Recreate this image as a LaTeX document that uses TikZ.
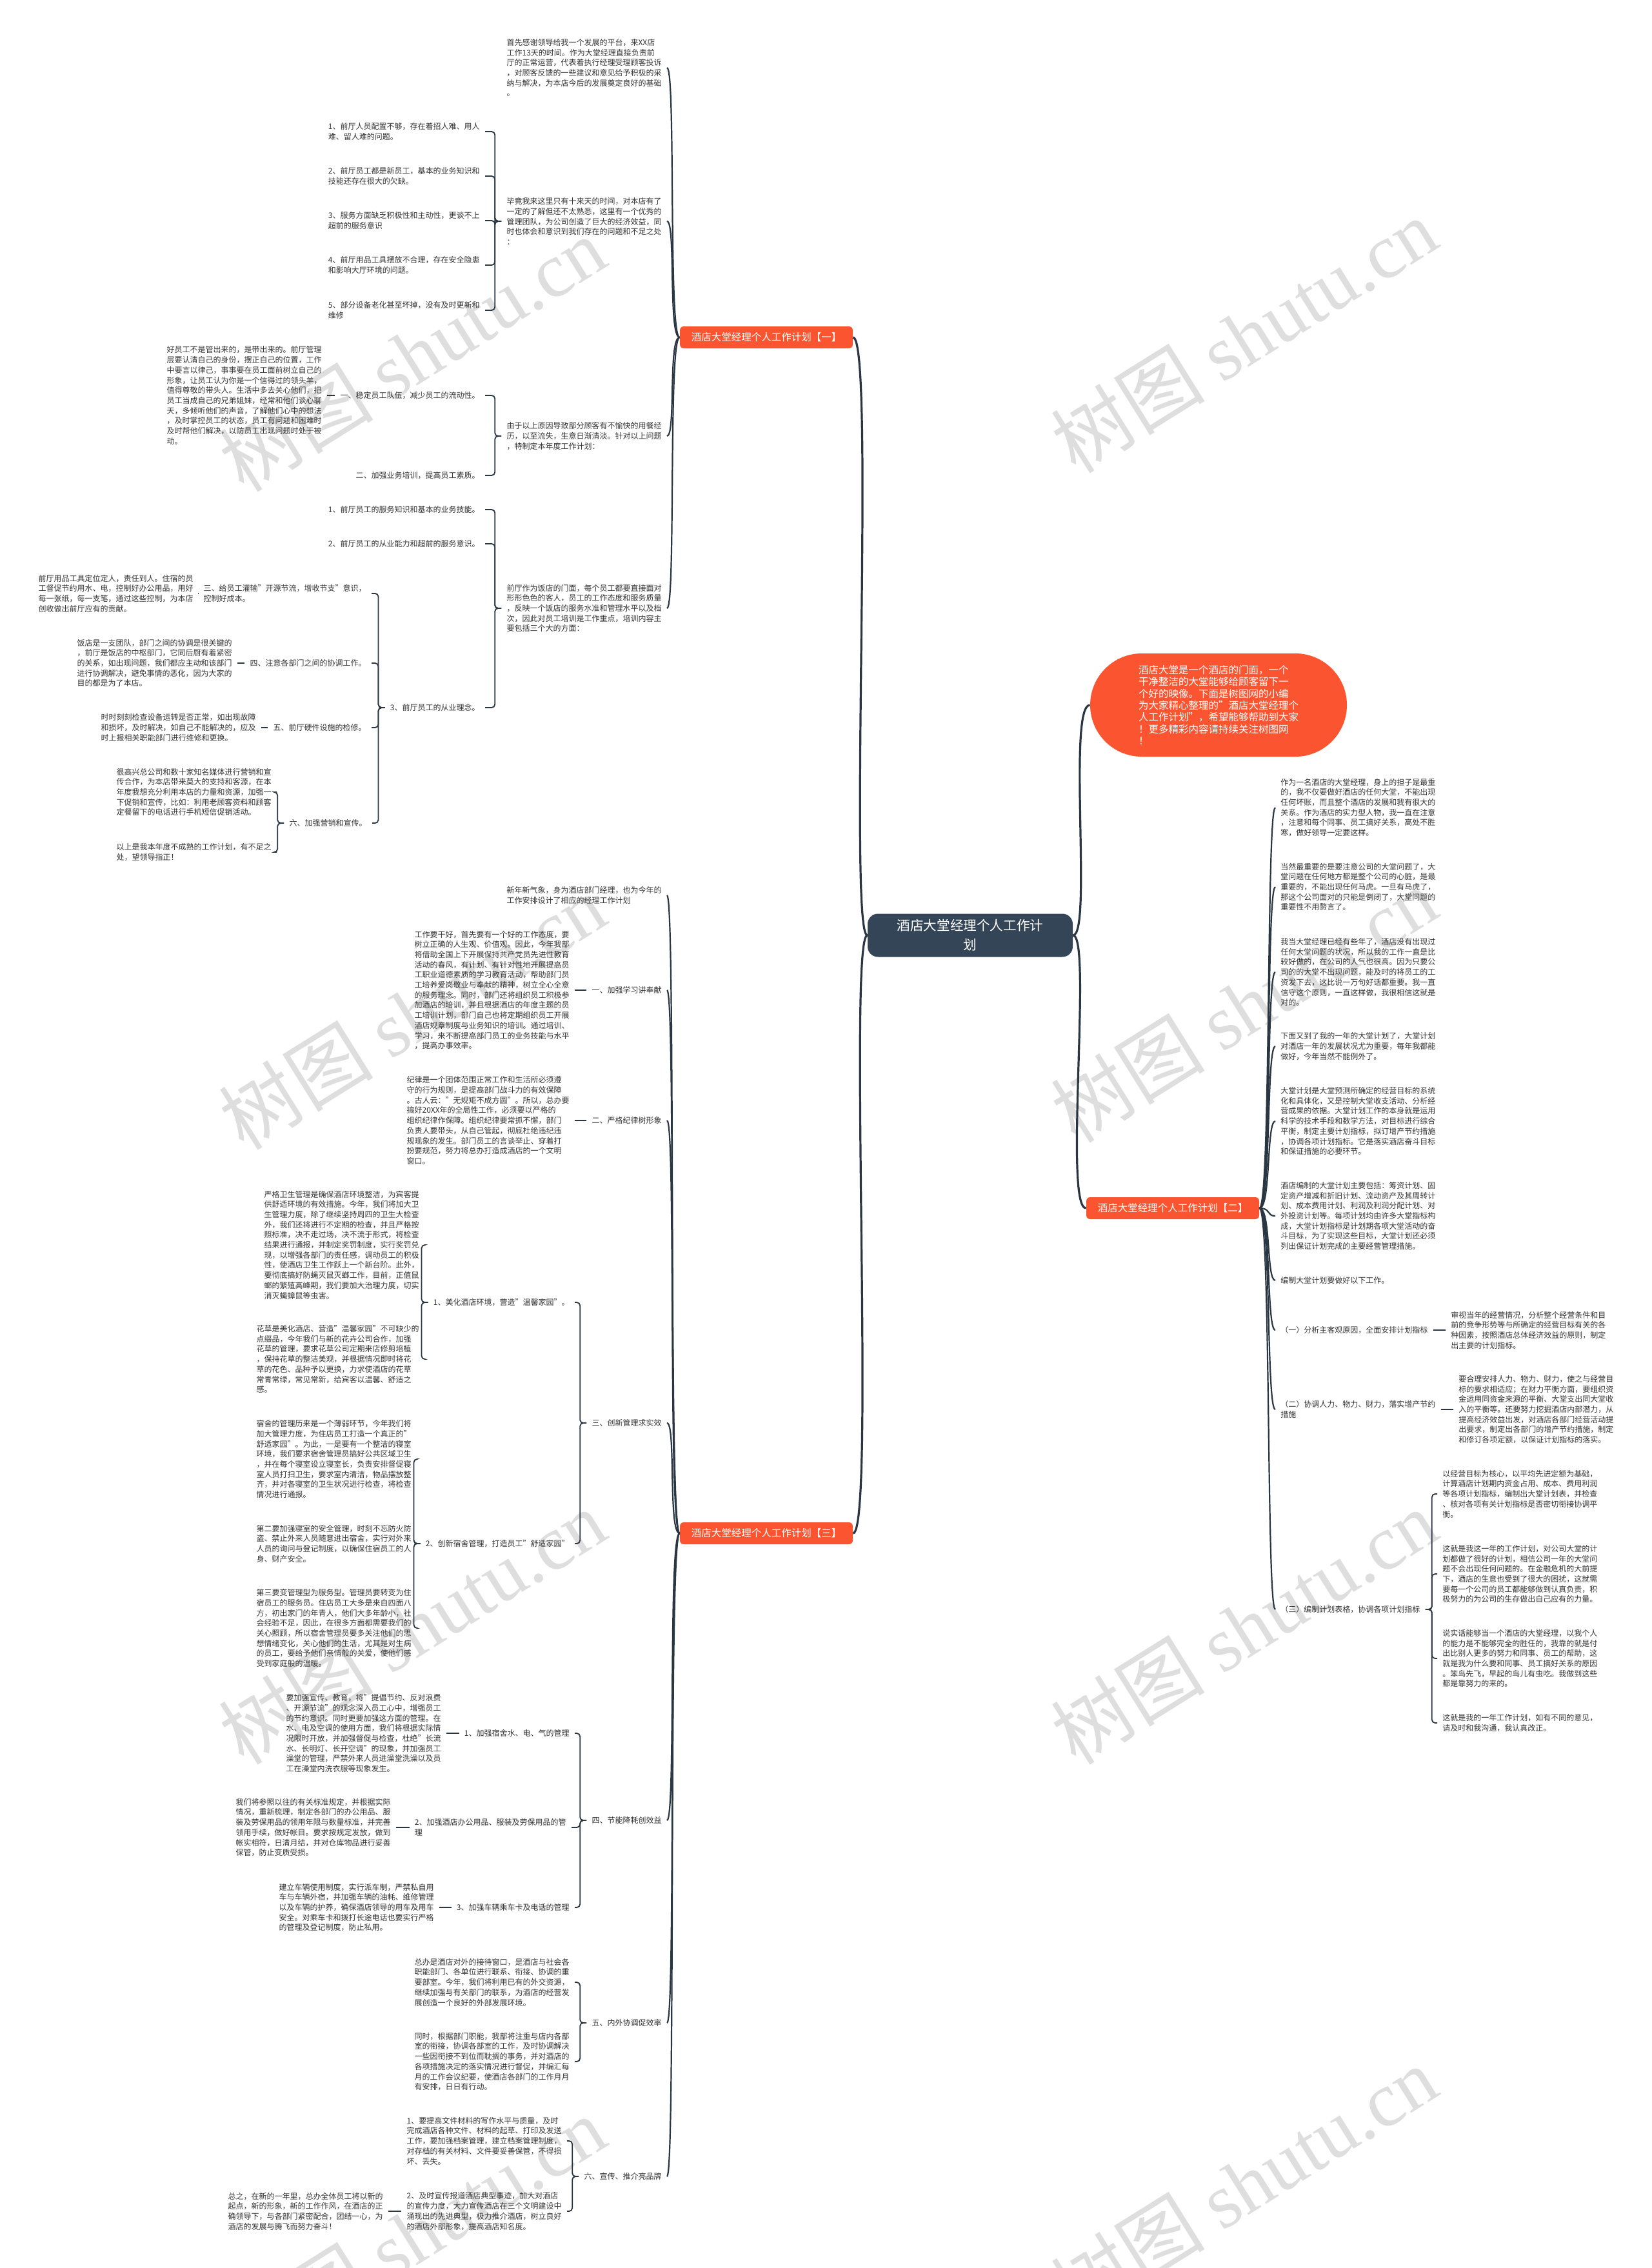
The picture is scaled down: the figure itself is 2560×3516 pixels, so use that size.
\documentclass[tikz,border=0pt]{standalone}
\usepackage{fontspec}
\setmainfont{Noto Sans CJK SC}
\newfontfamily\wmserif{Liberation Serif}
\usepackage{tikz}
\definecolor{hotelorange}{HTML}{FA5530}
\definecolor{hoteldark}{HTML}{344557}
\definecolor{hotelline}{HTML}{2B3643}
\definecolor{hoteltext}{HTML}{333333}
\tikzset{
	txt/.style={align=left, inner xsep=4pt, inner ysep=0pt, text=hoteltext, font=\fontsize{6}{7.85}\selectfont},
	lt/.style={txt, anchor=east},
	rt/.style={txt, anchor=west},
	topic/.style={fill=hotelorange, text=white, rounded corners=3pt, minimum width=134pt, minimum height=17pt, font=\fontsize{7.75}{9}\selectfont},
	hub/.style={fill=hoteldark, text=white, rounded corners=8pt, align=center, minimum width=159pt, minimum height=33.5pt, font=\fontsize{10.3}{15}\selectfont},
	intro/.style={fill=hotelorange, text=white, rounded corners=40pt, align=left, minimum width=199pt, minimum height=80pt, font=\fontsize{7.75}{9.15}\selectfont},
	trunk/.style={hotelline, line width=1.6pt},
	spine/.style={hotelline, line width=1.1pt},
	brace/.style={hotelline, line width=0.9pt, rounded corners=2.5pt},
	wmark/.style={rotate=32, text=black!13, font=\fontsize{60}{60}\selectfont}
}

\begin{document}
\begin{tikzpicture}[x=0.5pt, y=-0.5pt]
\useasboundingbox [fill=white] (0,0) rectangle (2560,3516);
\node [wmark] (w1) at (639,549) {树图 {\wmserif shutu.cn}};
\node [wmark] (w2) at (639,1569) {树图 {\wmserif shutu.cn}};
\node [wmark] (w3) at (639,2522) {树图 {\wmserif shutu.cn}};
\node [wmark] (w4) at (639,3463) {树图 {\wmserif shutu.cn}};
\node [wmark] (w5) at (1928,520) {树图 {\wmserif shutu.cn}};
\node [wmark] (w6) at (1928,1558) {树图 {\wmserif shutu.cn}};
\node [wmark] (w7) at (1928,2522) {树图 {\wmserif shutu.cn}};
\node [wmark] (w8) at (1928,3385) {树图 {\wmserif shutu.cn}};

\node [hub] (hub) at (1504,1450) {酒店大堂经理个人工作计\\划};
\node [intro] (intro) at (1889,1093) {酒店大堂是一个酒店的门面，一个\\干净整洁的大堂能够给顾客留下一\\个好的映像。下面是树图网的小编\\为大家精心整理的"酒店大堂经理个\\人工作计划"，希望能够帮助到大家\\！更多精彩内容请持续关注树图网\\！};
\node [topic] (br1) at (1188,523) {酒店大堂经理个人工作计划【一】};
\node [topic] (br2) at (1818,1873) {酒店大堂经理个人工作计划【二】};
\node [topic] (br3) at (1188,2377) {酒店大堂经理个人工作计划【三】};
\draw [trunk] (hub.west) .. controls +(-30,0) and +(35,0) .. (br1.east);
\draw [trunk] (hub.west) .. controls +(-30,0) and +(35,0) .. (br3.east);
\draw [trunk] (hub.east) .. controls +(30,0) and +(-35,0) .. (intro.west);
\draw [trunk] (hub.east) .. controls +(30,0) and +(-35,0) .. (br2.west);

\node [lt] (a1) at (1034,105) {首先感谢领导给我一个发展的平台，来XX店\\工作13天的时间。作为大堂经理直接负责前\\厅的正常运营，代表着执行经理受理顾客投诉\\，对顾客反馈的一些建议和意见给予积极的采\\纳与解决，为本店今后的发展奠定良好的基础\\。};
\node [lt] (a2) at (1034,343) {毕竟我来这里只有十来天的时间，对本店有了\\一定的了解但还不太熟悉，这里有一个优秀的\\管理团队，为公司创造了巨大的经济效益，同\\时也体会和意识到我们存在的问题和不足之处\\：};
\node [lt] (b1) at (752,204) {1、前厅人员配置不够，存在着招人难、用人\\难、留人难的问题。};
\node [lt] (b2) at (752,273) {2、前厅员工都是新员工，基本的业务知识和\\技能还存在很大的欠缺。};
\node [lt] (b3) at (752,342) {3、服务方面缺乏积极性和主动性，更谈不上\\超前的服务意识};
\node [lt] (b4) at (752,411) {4、前厅用品工具摆放不合理，存在安全隐患\\和影响大厅环境的问题。};
\node [lt] (b5) at (752,481) {5、部分设备老化甚至坏掉，没有及时更新和\\维修};
\node [lt] (a3) at (1034,676) {由于以上原因导致部分顾客有不愉快的用餐经\\历，以至流失，生意日渐清淡。针对以上问题\\，特制定本年度工作计划：};
\node [lt] (c1) at (752,613) {一、稳定员工队伍，减少员工的流动性。};
\node [lt] (c1p) at (507,613) {好员工不是管出来的，是带出来的。前厅管理\\层要认清自己的身份，摆正自己的位置，工作\\中要言以律己，事事要在员工面前树立自己的\\形象，让员工认为你是一个信得过的领头羊，\\值得尊敬的带头人。生活中多去关心他们，把\\员工当成自己的兄弟姐妹，经常和他们谈心聊\\天，多倾听他们的声音，了解他们心中的想法\\，及时掌控员工的状态，员工有问题和困难时\\及时帮他们解决，以防员工出现问题时处于被\\动。};
\node [lt] (c2) at (752,737) {二、加强业务培训，提高员工素质。};
\node [lt] (a4) at (1034,943) {前厅作为饭店的门面，每个员工都要直接面对\\形形色色的客人，员工的工作态度和服务质量\\，反映一个饭店的服务水准和管理水平以及档\\次，因此对员工培训是工作重点，培训内容主\\要包括三个大的方面：};
\node [lt] (d1) at (752,790) {1、前厅员工的服务知识和基本的业务技能。};
\node [lt] (d2) at (752,843) {2、前厅员工的从业能力和超前的服务意识。};
\node [lt] (d3) at (752,1097) {3、前厅员工的从业理念。};
\node [lt] (d3a) at (576,920) {三、给员工灌输"开源节流，增收节支"意识，\\控制好成本。};
\node [lt] (d3ap) at (308,920) {前厅用品工具定位定人，责任到人。住宿的员\\工督促节约用水、电，控制好办公用品，用好\\每一张纸，每一支笔，通过这些控制，为本店\\创收做出前厅应有的贡献。};
\node [lt] (d3b) at (576,1028) {四、注意各部门之间的协调工作。};
\node [lt] (d3bp) at (368,1028) {饭店是一支团队，部门之间的协调是很关键的\\，前厅是饭店的中枢部门，它同后厨有着紧密\\的关系，如出现问题，我们都应主动和该部门\\进行协调解决，避免事情的恶化，因为大家的\\目的都是为了本店。};
\node [lt] (d3c) at (576,1128) {五、前厅硬件设施的检修。};
\node [lt] (d3cp) at (405,1128) {时时刻刻检查设备运转是否正常，如出现故障\\和损坏，及时解决，如自己不能解决的，应及\\时上报相关职能部门进行维修和更换。};
\node [lt] (d3d) at (577,1276) {六、加强营销和宣传。};
\node [lt] (d3dp) at (429,1228) {很高兴总公司和数十家知名媒体进行营销和宣\\传合作，为本店带来莫大的支持和客源，在本\\年度我想充分利用本店的力量和资源，加强一\\下促销和宣传，比如：利用老顾客资料和顾客\\定餐留下的电话进行手机短信促销活动。};
\node [lt] (d3dq) at (429,1321) {以上是我本年度不成熟的工作计划，有不足之\\处，望领导指正！};

\foreach \c in {a1,a2,a3,a4}
  \draw [spine] (br1.west) .. controls +(-18,0) and +(14,0) .. (\c.east);
\foreach \c in {b1,b2,b3,b4,b5}
  \draw [brace] (a2.west) -- ++(-10,0) |- (\c.east);
\foreach \c in {c1,c2}
  \draw [brace] (a3.west) -- ++(-10,0) |- (\c.east);
\foreach \c in {d1,d2,d3}
  \draw [brace] (a4.west) -- ++(-10,0) |- (\c.east);
\foreach \c in {d3a,d3b,d3c,d3d}
  \draw [brace] (d3.west) -- ++(-10,0) |- (\c.east);
\foreach \c in {d3dp,d3dq}
  \draw [brace] (d3d.west) -- ++(-10,0) |- (\c.east);
\draw [brace] (c1.west) -- (c1p.east);
\draw [brace] (d3a.west) -- (d3ap.east);
\draw [brace] (d3b.west) -- (d3bp.east);
\draw [brace] (d3c.west) -- (d3cp.east);

\node [rt] (e1) at (1977,1252) {作为一名酒店的大堂经理，身上的担子是最重\\的，我不仅要做好酒店的任何大堂，不能出现\\任何坏账，而且整个酒店的发展和我有很大的\\关系。作为酒店的实力型人物，我一直在注意\\，注意和每个同事、员工搞好关系，高处不胜\\寒，做好领导一定要这样。};
\node [rt] (e2) at (1977,1375) {当然最重要的是要注意公司的大堂问题了，大\\堂问题在任何地方都是整个公司的心脏，是最\\重要的，不能出现任何马虎。一旦有马虎了，\\那这个公司面对的只能是倒闭了，大堂问题的\\重要性不用赘言了。};
\node [rt] (e3) at (1977,1507) {我当大堂经理已经有些年了，酒店没有出现过\\任何大堂问题的状况，所以我的工作一直是比\\较好做的，在公司的人气也很高。因为只要公\\司的的大堂不出现问题，能及时的将员工的工\\资发下去，这比说一万句好话都重要。我一直\\信守这个原则，一直这样做，我很相信这就是\\对的。};
\node [rt] (e4) at (1977,1622) {下面又到了我的一年的大堂计划了，大堂计划\\对酒店一年的发展状况尤为重要，每年我都能\\做好，今年当然不能例外了。};
\node [rt] (e5) at (1977,1738) {大堂计划是大堂预测所确定的经营目标的系统\\化和具体化，又是控制大堂收支活动、分析经\\营成果的依据。大堂计划工作的本身就是运用\\科学的技术手段和数学方法，对目标进行综合\\平衡，制定主要计划指标，拟订增产节约措施\\，协调各项计划指标。它是落实酒店奋斗目标\\和保证措施的必要环节。};
\node [rt] (e6) at (1977,1885) {酒店编制的大堂计划主要包括：筹资计划、固\\定资产增减和折旧计划、流动资产及其周转计\\划、成本费用计划、利润及利润分配计划、对\\外投资计划等。每项计划均由许多大堂指标构\\成，大堂计划指标是计划期各项大堂活动的奋\\斗目标，为了实现这些目标，大堂计划还必须\\列出保证计划完成的主要经营管理措施。};
\node [rt] (e7) at (1977,1985) {编制大堂计划要做好以下工作。};
\node [rt] (e8) at (1977,2062) {（一）分析主客观原因，全面安排计划指标};
\node [rt] (e8p) at (2241,2062) {审视当年的经营情况，分析整个经营条件和目\\前的竞争形势等与所确定的经营目标有关的各\\种因素，按照酒店总体经济效益的原则，制定\\出主要的计划指标。};
\node [rt] (e9) at (1977,2185) {（二）协调人力、物力、财力，落实增产节约\\措施};
\node [rt] (e9p) at (2253,2185) {要合理安排人力、物力、财力，使之与经营目\\标的要求相适应；在财力平衡方面，要组织资\\金运用同资金来源的平衡、大堂支出同大堂收\\入的平衡等。还要努力挖掘酒店内部潜力，从\\提高经济效益出发，对酒店各部门经营活动提\\出要求，制定出各部门的增产节约措施，制定\\和修订各项定额，以保证计划指标的落实。};
\node [rt] (e10) at (1977,2495) {（三）编制计划表格，协调各项计划指标};
\node [rt] (e10a) at (2228,2316) {以经营目标为核心，以平均先进定额为基础，\\计算酒店计划期内资金占用、成本、费用利润\\等各项计划指标，编制出大堂计划表，并检查\\、核对各项有关计划指标是否密切衔接协调平\\衡。};
\node [rt] (e10b) at (2228,2440) {这就是我这一年的工作计划，对公司大堂的计\\划都做了很好的计划，相信公司一年的大堂问\\题不会出现任何问题的。在金融危机的大前提\\下，酒店的生意也受到了很大的困扰，这就需\\要每一个公司的员工都能够做到认真负责，积\\极努力的为公司的生存做出自己应有的力量。};
\node [rt] (e10c) at (2228,2571) {说实话能够当一个酒店的大堂经理，以我个人\\的能力是不能够完全的胜任的，我靠的就是付\\出比别人更多的努力和同事、员工的帮助，这\\就是我为什么要和同事、员工搞好关系的原因\\。笨鸟先飞，早起的鸟儿有虫吃。我做到这些\\都是靠努力的来的。};
\node [rt] (e10d) at (2228,2671) {这就是我的一年工作计划，如有不同的意见，\\请及时和我沟通，我认真改正。};

\foreach \c in {e1,e2,e3,e4,e5,e6,e7,e8,e9,e10}
  \draw [spine] (br2.east) .. controls +(18,0) and +(-14,0) .. (\c.west);
\draw [brace] (e8.east) -- (e8p.west);
\draw [brace] (e9.east) -- (e9p.west);
\foreach \c in {e10a,e10b,e10c,e10d}
  \draw [brace] (e10.east) -- ++(10,0) |- (\c.west);

\node [lt] (f1) at (1034,1388) {新年新气象，身为酒店部门经理，也为今年的\\工作安排设计了相应的经理工作计划};
\node [lt] (f2) at (1034,1535) {一、加强学习讲奉献};
\node [lt] (f2p) at (891,1535) {工作要干好，首先要有一个好的工作态度，要\\树立正确的人生观、价值观。因此，今年我部\\将借助全国上下开展保持共产党员先进性教育\\活动的春风，有计划、有针对性地开展提高员\\工职业道德素质的学习教育活动，帮助部门员\\工培养爱岗敬业与奉献的精神，树立全心全意\\的服务理念。同时，部门还将组织员工积极参\\加酒店的培训，并且根据酒店的年度主题的员\\工培训计划，部门自己也将定期组织员工开展\\酒店规章制度与业务知识的培训。通过培训、\\学习，来不断提高部门员工的业务技能与水平\\，提高办事效率。};
\node [lt] (f3) at (1034,1737) {二、严格纪律树形象};
\node [lt] (f3p) at (891,1737) {纪律是一个团体范围正常工作和生活所必须遵\\守的行为规则，是提高部门战斗力的有效保障\\。古人云："无规矩不成方圆"。所以，总办要\\搞好20XX年的全局性工作，必须要以严格的\\组织纪律作保障。组织纪律要常抓不懈，部门\\负责人要带头，从自己管起，彻底杜绝违纪违\\规现象的发生。部门员工的言谈举止、穿着打\\扮要规范，努力将总办打造成酒店的一个文明\\窗口。};
\node [lt] (f4) at (1034,2206) {三、创新管理求实效};
\node [lt] (f4a) at (891,2019) {1、美化酒店环境，营造"温馨家园"。};
\node [lt] (f4a1) at (658,1930) {严格卫生管理是确保酒店环境整洁，为宾客提\\供舒适环境的有效措施。今年，我们将加大卫\\生管理力度，除了继续坚持周四的卫生大检查\\外，我们还将进行不定期的检查，并且严格按\\照标准，决不走过场，决不流于形式，将检查\\结果进行通报，并制定奖罚制度，实行奖罚兑\\现，以增强各部门的责任感，调动员工的积极\\性，使酒店卫生工作跃上一个新台阶。此外，\\要彻底搞好防蝇灭鼠灭螂工作，目前，正值鼠\\螂的繁殖高峰期，我们要加大治理力度，切实\\消灭蝇蟑鼠等虫害。};
\node [lt] (f4a2) at (658,2107) {花草是美化酒店、营造"温馨家园"不可缺少的\\点缀品，今年我们与新的花卉公司合作，加强\\花草的管理，要求花草公司定期来店修剪培植\\，保持花草的整洁美观，并根据情况即时将花\\草的花色、品种予以更换，力求使酒店的花草\\常青常绿，常见常新，给宾客以温馨、舒适之\\感。};
\node [lt] (f4b) at (891,2393) {2、创新宿舍管理，打造员工"舒适家园"};
\node [lt] (f4b1) at (646,2262) {宿舍的管理历来是一个薄弱环节，今年我们将\\加大管理力度，为住店员工打造一个真正的"\\舒适家园"。为此，一是要有一个整洁的寝室\\环境，我们要求宿舍管理员搞好公共区域卫生\\，并在每个寝室设立寝室长，负责安排督促寝\\室人员打扫卫生，要求室内清洁，物品摆放整\\齐，并对各寝室的卫生状况进行检查，将检查\\情况进行通报。};
\node [lt] (f4b2) at (646,2393) {第二要加强寝室的安全管理，时刻不忘防火防\\盗、禁止外来人员随意进出宿舍，实行对外来\\人员的询问与登记制度，以确保住宿员工的人\\身、财产安全。};
\node [lt] (f4b3) at (646,2524) {第三要变管理型为服务型。管理员要转变为住\\宿员工的服务员。住店员工大多是来自四面八\\方，初出家门的年青人，他们大多年龄小，社\\会经验不足，因此，在很多方面都需要我们的\\关心照顾，所以宿舍管理员要多关注他们的思\\想情绪变化，关心他们的生活，尤其是对生病\\的员工，要给予他们亲情般的关爱，使他们感\\受到家庭般的温暖。};
\node [lt] (f5) at (1034,2822) {四、节能降耗创效益};
\node [lt] (f5a) at (891,2687) {1、加强宿舍水、电、气的管理};
\node [lt] (f5ap) at (692,2687) {要加强宣传、教育，将"提倡节约、反对浪费\\、开源节流"的观念深入员工心中，增强员工\\的节约意识。同时更要加强这方面的管理。在\\水、电及空调的使用方面，我们将根据实际情\\况限时开放，并加强督促与检查，杜绝"长流\\水、长明灯、长开空调"的现象，并加强员工\\澡堂的管理，严禁外来人员进澡堂洗澡以及员\\工在澡堂内洗衣服等现象发生。};
\node [lt] (f5b) at (886,2833) {2、加强酒店办公用品、服装及劳保用品的管\\理};
\node [lt] (f5bp) at (614,2833) {我们将参照以往的有关标准规定，并根据实际\\情况，重新梳理，制定各部门的办公用品、服\\装及劳保用品的领用年限与数量标准，并完善\\领用手续，做好帐目。要求按规定发放，做到\\帐实相符，日清月结，并对仓库物品进行妥善\\保管，防止变质受损。};
\node [lt] (f5c) at (891,2957) {3、加强车辆乘车卡及电话的管理};
\node [lt] (f5cp) at (681,2957) {建立车辆使用制度，实行派车制，严禁私自用\\车与车辆外宿，并加强车辆的油耗、维修管理\\以及车辆的护养，确保酒店领导的用车及用车\\安全。对乘车卡和拨打长途电话也要实行严格\\的管理及登记制度，防止私用。};
\node [lt] (f6) at (1034,3136) {五、内外协调促效率};
\node [lt] (f6a) at (891,3073) {总办是酒店对外的接待窗口，是酒店与社会各\\职能部门、各单位进行联系、衔接、协调的重\\要部室。今年，我们将利用已有的外交资源，\\继续加强与有关部门的联系，为酒店的经营发\\展创造一个良好的外部发展环境。};
\node [lt] (f6b) at (891,3196) {同时，根据部门职能，我部将注重与店内各部\\室的衔接，协调各部室的工作，及时协调解决\\一些因衔接不到位而耽搁的事务，并对酒店的\\各项措施决定的落实情况进行督促，并编汇每\\月的工作会议纪要，使酒店各部门的工作月月\\有安排，日日有行动。};
\node [lt] (f7) at (1034,3374) {六、宣传、推介亮品牌};
\node [lt] (f7a) at (879,3319) {1、要提高文件材料的写作水平与质量，及时\\完成酒店各种文件、材料的起草、打印及发送\\工作，要加强档案管理，建立档案管理制度，\\对存档的有关材料、文件要妥善保管，不得损\\坏、丢失。};
\node [lt] (f7b) at (879,3428) {2、及时宣传报道酒店典型事迹，加大对酒店\\的宣传力度，大力宣传酒店在三个文明建设中\\涌现出的先进典型，极力推介酒店，树立良好\\的酒店外部形象，提高酒店知名度。};
\node [lt] (f7b1) at (602,3428) {总之，在新的一年里，总办全体员工将以新的\\起点，新的形象，新的工作作风，在酒店的正\\确领导下，与各部门紧密配合，团结一心，为\\酒店的发展与腾飞而努力奋斗！};

\foreach \c in {f1,f2,f3,f4,f5,f6,f7}
  \draw [spine] (br3.west) .. controls +(-18,0) and +(14,0) .. (\c.east);
\draw [brace] (f2.west) -- (f2p.east);
\draw [brace] (f3.west) -- (f3p.east);
\foreach \c in {f4a,f4b}
  \draw [brace] (f4.west) -- ++(-10,0) |- (\c.east);
\foreach \c in {f4a1,f4a2}
  \draw [brace] (f4a.west) -- ++(-10,0) |- (\c.east);
\foreach \c in {f4b1,f4b2,f4b3}
  \draw [brace] (f4b.west) -- ++(-10,0) |- (\c.east);
\foreach \c in {f5a,f5b,f5c}
  \draw [brace] (f5.west) -- ++(-10,0) |- (\c.east);
\draw [brace] (f5a.west) -- (f5ap.east);
\draw [brace] (f5b.west) -- (f5bp.east);
\draw [brace] (f5c.west) -- (f5cp.east);
\foreach \c in {f6a,f6b}
  \draw [brace] (f6.west) -- ++(-10,0) |- (\c.east);
\foreach \c in {f7a,f7b}
  \draw [brace] (f7.west) -- ++(-10,0) |- (\c.east);
\draw [brace] (f7b.west) -- (f7b1.east);
\end{tikzpicture}
\end{document}
